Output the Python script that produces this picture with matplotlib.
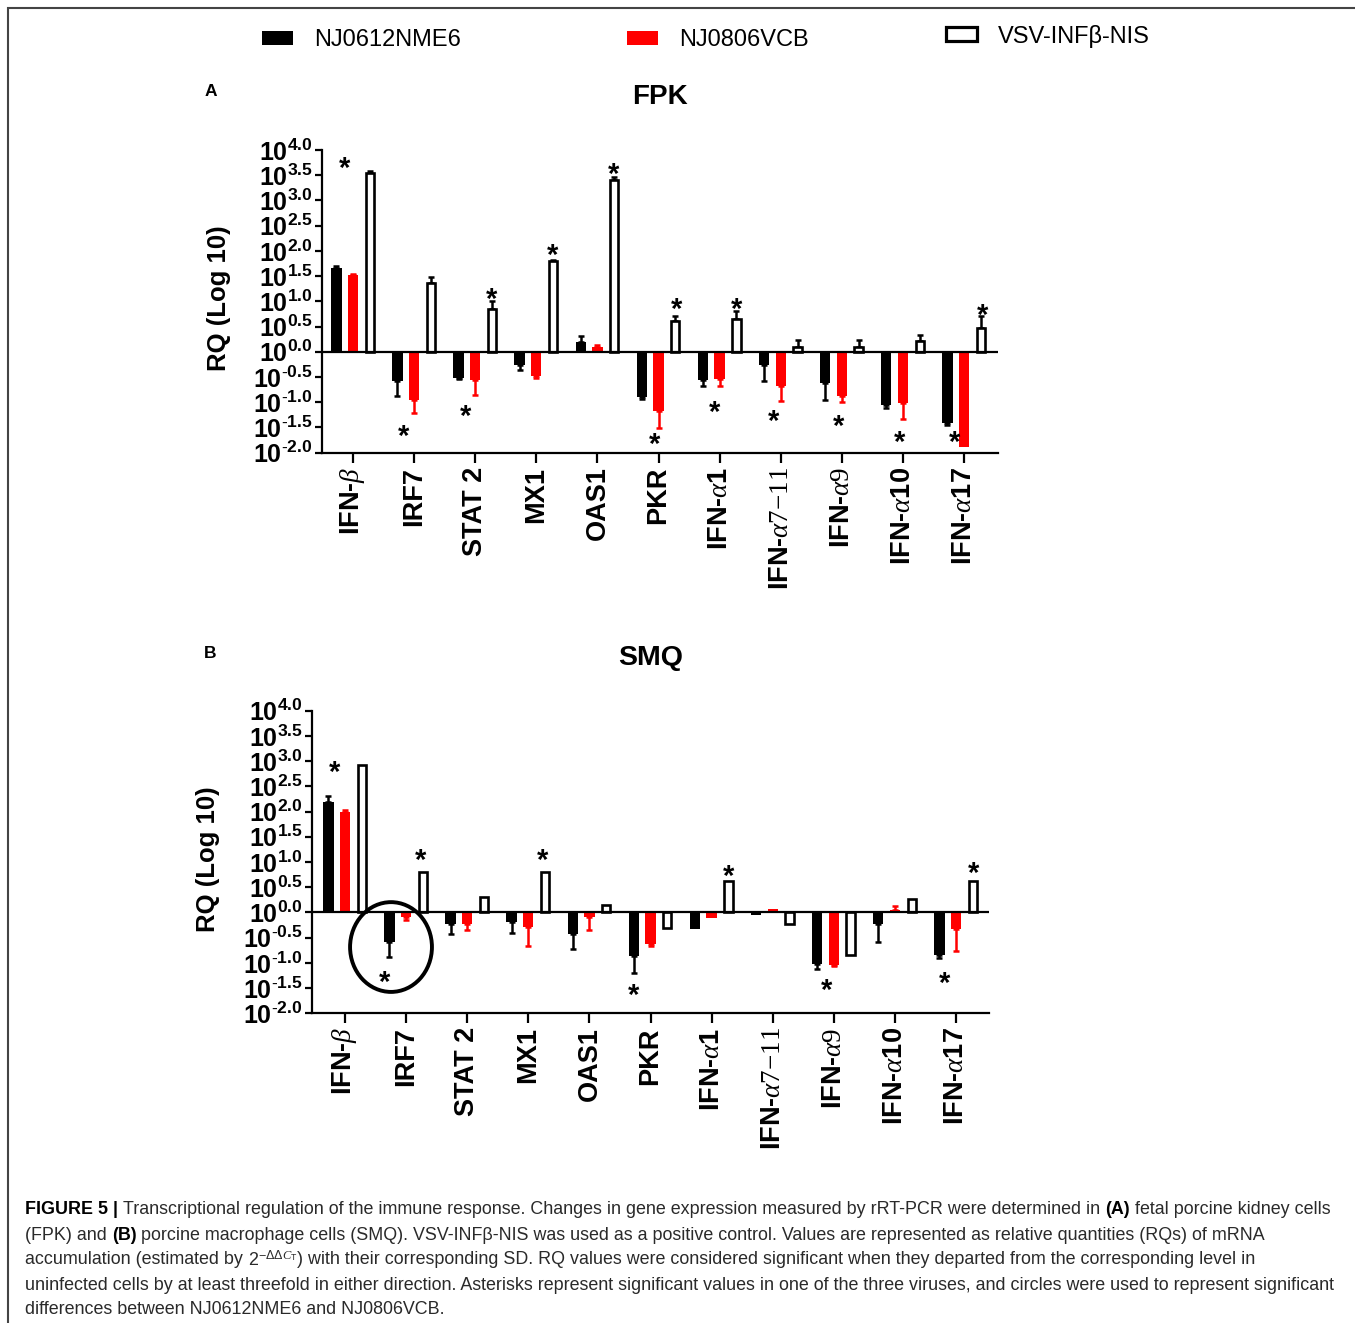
import numpy as np
import matplotlib
matplotlib.use("Agg")
import matplotlib.pyplot as plt
from matplotlib.patches import Patch, Ellipse, Rectangle

plt.rcParams['font.family'] = ['Liberation Sans', 'DejaVu Sans']
plt.rcParams['mathtext.fontset'] = 'custom'
plt.rcParams['mathtext.rm'] = 'Liberation Sans'
plt.rcParams['mathtext.bf'] = 'Liberation Sans:bold'
plt.rcParams['mathtext.it'] = 'Liberation Serif:italic'
plt.rcParams['mathtext.sf'] = 'Liberation Serif'

# ---------------- data (log10 RQ) ----------------
categories = ['IFN-$\\beta$', 'IRF7', 'STAT 2', 'MX1', 'OAS1', 'PKR',
              'IFN-$\\alpha$1', 'IFN-$\\alpha\\mathsf{7}{\\mathsf{-}}\\mathsf{11}$', 'IFN-$\\alpha\\mathsf{9}$',
              'IFN-$\\alpha$10', 'IFN-$\\alpha$17']
series_names = ['NJ0612NME6', 'NJ0806VCB', 'VSV-INF\u03b2-NIS']

# Panel A: FPK
fpk_nj0612 = [1.67, -0.585, -0.51, -0.26, 0.20, -0.90, -0.55, -0.26, -0.62, -1.05, -1.41]
fpk_nj0612_sd = [0.03, 0.30, 0.03, 0.11, 0.12, 0.03, 0.12, 0.31, 0.33, 0.07, 0.05]
fpk_nj0806 = [1.52, -0.95, -0.55, -0.47, 0.10, -1.17, -0.53, -0.68, -0.87, -1.01, -1.89]
fpk_nj0806_sd = [0.03, 0.26, 0.30, 0.05, 0.03, 0.34, 0.14, 0.29, 0.13, 0.32, 0.0]
fpk_vsv = [3.55, 1.37, 0.84, 1.79, 3.41, 0.61, 0.65, 0.10, 0.10, 0.22, 0.47]
fpk_vsv_sd = [0.03, 0.11, 0.16, 0.03, 0.05, 0.09, 0.16, 0.13, 0.13, 0.11, 0.23]

# Panel B: SMQ
smq_nj0612 = [2.19, -0.59, -0.23, -0.18, -0.43, -0.87, -0.32, -0.05, -1.02, -0.23, -0.84]
smq_nj0612_sd = [0.12, 0.30, 0.20, 0.22, 0.30, 0.34, 0.0, 0.0, 0.11, 0.35, 0.07]
smq_nj0806 = [2.00, -0.10, -0.23, -0.28, -0.10, -0.63, -0.12, 0.06, -1.04, 0.04, -0.33]
smq_nj0806_sd = [0.03, 0.05, 0.11, 0.38, 0.24, 0.03, 0.0, 0.0, 0.03, 0.09, 0.43]
smq_vsv = [2.93, 0.81, 0.30, 0.81, 0.14, -0.30, 0.62, -0.23, -0.84, 0.26, 0.62]
smq_vsv_sd = [0.0] * 11

# significance asterisks: (category position, value level)
fpk_star_x = [-0.13, 0.82, 2.27, 1.85, 3.26, 4.27, 5.29, 4.93, 6.28, 5.92, 6.89, 7.95, 8.95, 10.31, 9.84]
fpk_star_y = [3.80, -1.51, 1.20, -1.11, 2.07, 3.68, 1.01, -1.66, 1.01, -1.03, -1.21, -1.31, -1.62, 0.88, -1.62]
smq_star_x = [-0.175, 0.65, 1.24, 3.24, 4.72, 6.28, 7.88, 10.28, 9.82]
smq_star_y = [2.95, -1.22, 1.19, 1.19, -1.47, 0.88, -1.38, 0.94, -1.25]

yticks = [-2.0, -1.5, -1.0, -0.5, 0.0, 0.5, 1.0, 1.5, 2.0, 2.5, 3.0, 3.5, 4.0]


def ytick_label(t):
    s = '%.1f' % abs(t)
    if t < 0:
        return r'$\mathbf{10^{\text{-}%s}}$' % s
    return r'$\mathbf{10^{%s}}$' % s


W, H = 1355, 1323
fig = plt.figure(figsize=(W / 100, H / 100), dpi=100)
fig.patch.set_facecolor('white')

colors = ['black', '#ff0000', 'white']
edges = ['black', '#ff0000', 'black']
ecolors = ['black', '#ff0000', 'black']
offsets = [-0.272, 0.0, 0.275]
widths = [0.17, 0.17, 0.135]
lws = [0, 0, 1.9]


def panel(rect, xlim, vals, sds, star_x, star_y):
    ax = fig.add_axes(rect)
    x = np.arange(len(categories))
    for i in range(3):
        v = np.array(vals[i])
        sd = np.array(sds[i])
        ax.bar(x + offsets[i], v, width=widths[i], color=colors[i],
               edgecolor=edges[i], linewidth=lws[i], zorder=3)
        m = sd > 0
        if m.any():
            lo = np.where(v < 0, sd, 0)[m]
            hi = np.where(v >= 0, sd, 0)[m]
            ax.errorbar((x + offsets[i])[m], v[m], yerr=[lo, hi], fmt='none',
                        ecolor=ecolors[i], elinewidth=1.8, capsize=2.5,
                        capthick=1.8, zorder=2)
    ax.axhline(0, color='black', lw=1.6, zorder=4)
    for sx, sy in zip(star_x, star_y):
        ax.annotate('*', xy=(sx, sy), xytext=(0, -0.58 * 21), textcoords='offset points',
                    ha='center', va='baseline', fontsize=21, fontweight='bold',
                    annotation_clip=False)
    ax.set_xlim(*xlim)
    ax.set_ylim(-2, 4)
    ax.set_yticks(yticks)
    ax.set_yticklabels([ytick_label(t) for t in yticks], fontsize=18)
    ax.set_xticks(x)
    ax.set_xticklabels(categories, rotation=90, fontsize=19.5, fontweight='bold')
    for s in ['top', 'right']:
        ax.spines[s].set_visible(False)
    for s in ['left', 'bottom']:
        ax.spines[s].set_linewidth(1.6)
    ax.tick_params(axis='y', length=5, width=1.6, pad=1.5)
    ax.tick_params(axis='x', length=7, width=1.6, pad=3)
    ax.set_ylabel('RQ (Log 10)', fontsize=18.5, fontweight='bold')
    ax.patch.set_alpha(0)
    return ax


axA = panel([322 / W, 1 - 452.7 / H, 676 / W, 302.7 / H], (-0.507, 10.556),
            [fpk_nj0612, fpk_nj0806, fpk_vsv],
            [fpk_nj0612_sd, fpk_nj0806_sd, fpk_vsv_sd], fpk_star_x, fpk_star_y)
axA.yaxis.set_label_coords(-0.135, 0.51)

axB = panel([311.7 / W, 1 - 1013.3 / H, 677.3 / W, 302.6 / H], (-0.545, 10.54),
            [smq_nj0612, smq_nj0806, smq_vsv],
            [smq_nj0612_sd, smq_nj0806_sd, smq_vsv_sd], smq_star_x, smq_star_y)
axB.yaxis.set_label_coords(-0.135, 0.51)

# circle marking significant difference (IRF7, SMQ)
axB.add_patch(Ellipse((0.753, -0.686), 1.34, 1.78, fill=False, edgecolor='black',
                      lw=2.8, clip_on=False, zorder=5))

# titles and panel letters
fig.text(660 / W, 1 - 97 / H, 'FPK', fontsize=20, fontweight='bold', ha='center', va='center')
fig.text(651 / W, 1 - 658 / H, 'SMQ', fontsize=20.5, fontweight='bold', ha='center', va='center')
fig.text(211 / W, 1 - 92 / H, 'A', fontsize=12.5, fontweight='bold', ha='center', va='center')
fig.text(210 / W, 1 - 654 / H, 'B', fontsize=12.5, fontweight='bold', ha='center', va='center')

# legend (three separate entries)
leg_x = [262, 627, 946]
leg_y = [40, 40, 36]
handles = [Patch(facecolor='black', edgecolor='black', linewidth=0),
           Patch(facecolor='#ff0000', edgecolor='#ff0000', linewidth=0),
           Patch(facecolor='white', edgecolor='black', linewidth=2.3)]
for h, name, lx, ly in zip(handles, series_names, leg_x, leg_y):
    fig.legend([h], [name], loc='center left', bbox_to_anchor=(lx / W, 1 - ly / H),
               frameon=False, fontsize=17, borderpad=0, borderaxespad=0,
               handlelength=1.3, handleheight=0.52, handletextpad=0.9)

# border
fig.add_artist(Rectangle((8 / W, -0.1), 1.2, 1.1 - 8 / H, transform=fig.transFigure,
                         fill=False, edgecolor='#444444', lw=1.5))

# caption with bold segments
renderer = fig.canvas.get_renderer()
cap_size = 12.85
cap_color = '#2a2a2a'
cap_lines = [
    [('FIGURE 5 |', 'bold'), (' Transcriptional regulation of the immune response. Changes in gene expression measured by rRT-PCR were determined in ', 'normal'),
     ('(A)', 'bold'), (' fetal porcine kidney cells', 'normal')],
    [('(FPK) and ', 'normal'), ('(B)', 'bold'), (' porcine macrophage cells (SMQ). VSV-INF\u03b2-NIS was used as a positive control. Values are represented as relative quantities (RQs) of mRNA', 'normal')],
    [('accumulation (estimated by ', 'normal'), (r'$2^{-\Delta\Delta C_{\mathrm{T}}}$', 'normal'), (') with their corresponding SD. RQ values were considered significant when they departed from the corresponding level in', 'normal')],
    [('uninfected cells by at least threefold in either direction. Asterisks represent significant values in one of the three viruses, and circles were used to represent significant', 'normal')],
    [('differences between NJ0612NME6 and NJ0806VCB.', 'normal')],
]
cap_y = [1210, 1235, 1260, 1285, 1310]
for segs, yy in zip(cap_lines, cap_y):
    cur = 25.0
    for txt, wt in segs:
        lead = len(txt) - len(txt.lstrip(' '))
        trail = len(txt) - len(txt.rstrip(' '))
        t = fig.text(cur / W, 1 - yy / H, txt.strip(' '), fontsize=cap_size, fontweight=wt,
                     color=cap_color if wt == 'normal' else 'black', ha='left', va='center')
        if lead:
            cur += lead * cap_size * 100 / 72 * 0.278
            t.set_x(cur / W)
        bb = t.get_window_extent(renderer)
        cur = bb.x1 + trail * cap_size * 100 / 72 * 0.278

fig.savefig('out.png', dpi=100, facecolor='white')
